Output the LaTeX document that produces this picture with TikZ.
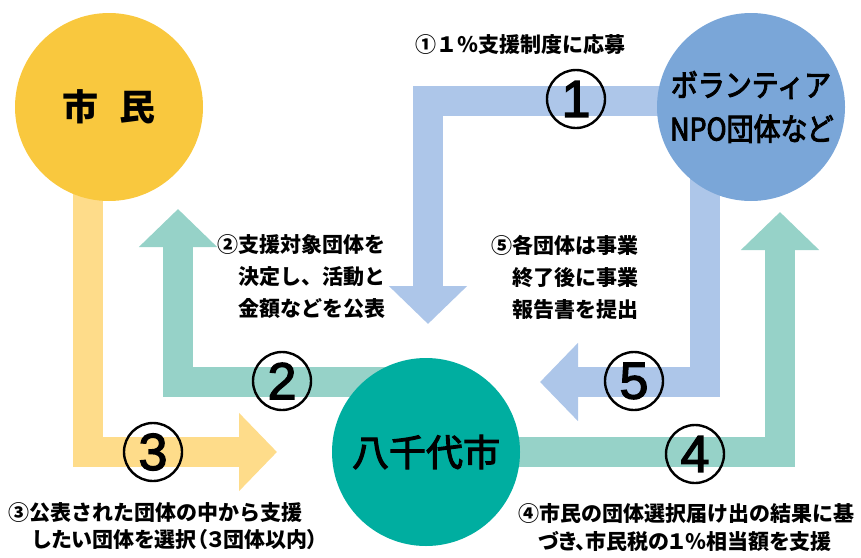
\documentclass[tikz,border=0pt]{standalone}
\usepackage{fontspec}
\usetikzlibrary{arrows.meta}
\newfontfamily\jp{Noto Sans CJK JP}
\newfontfamily\jpm{Noto Sans CJK JP}[FakeBold=3]
\newfontfamily\jpp{Noto Sans CJK JP}[RawFeature=+palt]
\newfontfamily\jpc{Noto Sans CJK JP}[FakeStretch=0.87,FakeBold=3]
\newfontfamily\jpcp{Noto Sans CJK JP}[FakeStretch=0.87,FakeBold=3,RawFeature=+palt]
\newfontfamily\numf{Liberation Sans}[FakeBold=2.5]
\definecolor{cyel}{HTML}{F9C83E}
\definecolor{cblue}{HTML}{7AA6D8}
\definecolor{cteal}{HTML}{00AEA0}
\definecolor{ablue}{HTML}{ADC6E9}
\definecolor{ateal}{HTML}{96D2C8}
\definecolor{ayel}{HTML}{FEDC8A}
\pgfdeclarelayer{bg}
\pgfsetlayers{bg,main}
\begin{document}
\begin{tikzpicture}[x=1pt,y=-1pt,
  band/.style={line width=30pt, draw=#1, -{Triangle[width=76pt,length=38pt]}},
  bubble/.style={circle, inner sep=0pt, minimum size=188pt, fill=#1},
  numc/.style={circle, draw=black, line width=2.4pt, minimum size=58pt, inner sep=0pt,
    font=\numf\fontsize{52}{52}\selectfont},
  lbl/.style={inner sep=0pt, font=\jp\bfseries\fontsize{21}{32}\selectfont},
  lblp/.style={inner sep=0pt, font=\jpp\bfseries\fontsize{21}{32}\selectfont}]
\useasboundingbox (0,0) rectangle (861,557);

% main circles
\node[bubble=cyel, font=\jp\bfseries\fontsize{36}{36}\selectfont] (shimin) at (109,107) {市\hspace{0.6em}民};
\node[bubble=cblue, align=center, font=\jpc\fontsize{31}{44}\selectfont] (npo) at (751,107)
  {ボランティア\\\jpcp NPO団体など};
\node[bubble=cteal, font=\jpm\fontsize{37}{37}\selectfont] (city) at (426,452) {八千代市};

% arrow tips
\coordinate (tip1) at (428,324);
\coordinate (tip2) at (178,209);
\coordinate (tip3) at (277,452);
\coordinate (tip4) at (780,212);
\coordinate (tip5) at (540,382);

\begin{pgfonlayer}{bg}
\draw[band=ablue] ([yshift=6pt]npo.center) -| (tip1);
\draw[band=ateal] ([yshift=70pt]city.center) -| (tip2);
\draw[band=ayel] ([xshift=-21pt]shimin.center) |- (tip3);
\draw[band=ateal] (city.center) -| (tip4);
\draw[band=ablue] ([xshift=-46pt]npo.center) |- (tip5);
\end{pgfonlayer}

% numbered circles
\node[numc] (n1) at (576,99) {1};
\node[numc] (n2) at (282,381) {2};
\node[numc] (n3) at (153,452) {3};
\node[numc] (n4) at (695,454) {4};
\node[numc] (n5) at (634,381) {5};

% labels
\node[lbl, anchor=west] (t1) at (415,45) {①１％支援制度に応募};
\node[lbl, anchor=east, align=right] (t2) at (386,277) {②支援対象団体を\\決定し、活動と\\金額などを公表};
\node[lbl, anchor=east, align=right] (t5) at (639,277) {⑤各団体は事業\\終了後に事業\\報告書を提出};
\node[lbl, anchor=west] (t3a) at (8,513) {③公表された団体の中から支援};
\node[lblp, anchor=west] (t3b) at (33,540) {したい団体を選択（３団体以内）};
\node[lbl, anchor=west] (t4a) at (518,513) {④市民の団体選択届け出の結果に基};
\node[lblp, anchor=west] (t4b) at (538,541) {づき、市民税の１％相当額を支援};
\end{tikzpicture}
\end{document}
